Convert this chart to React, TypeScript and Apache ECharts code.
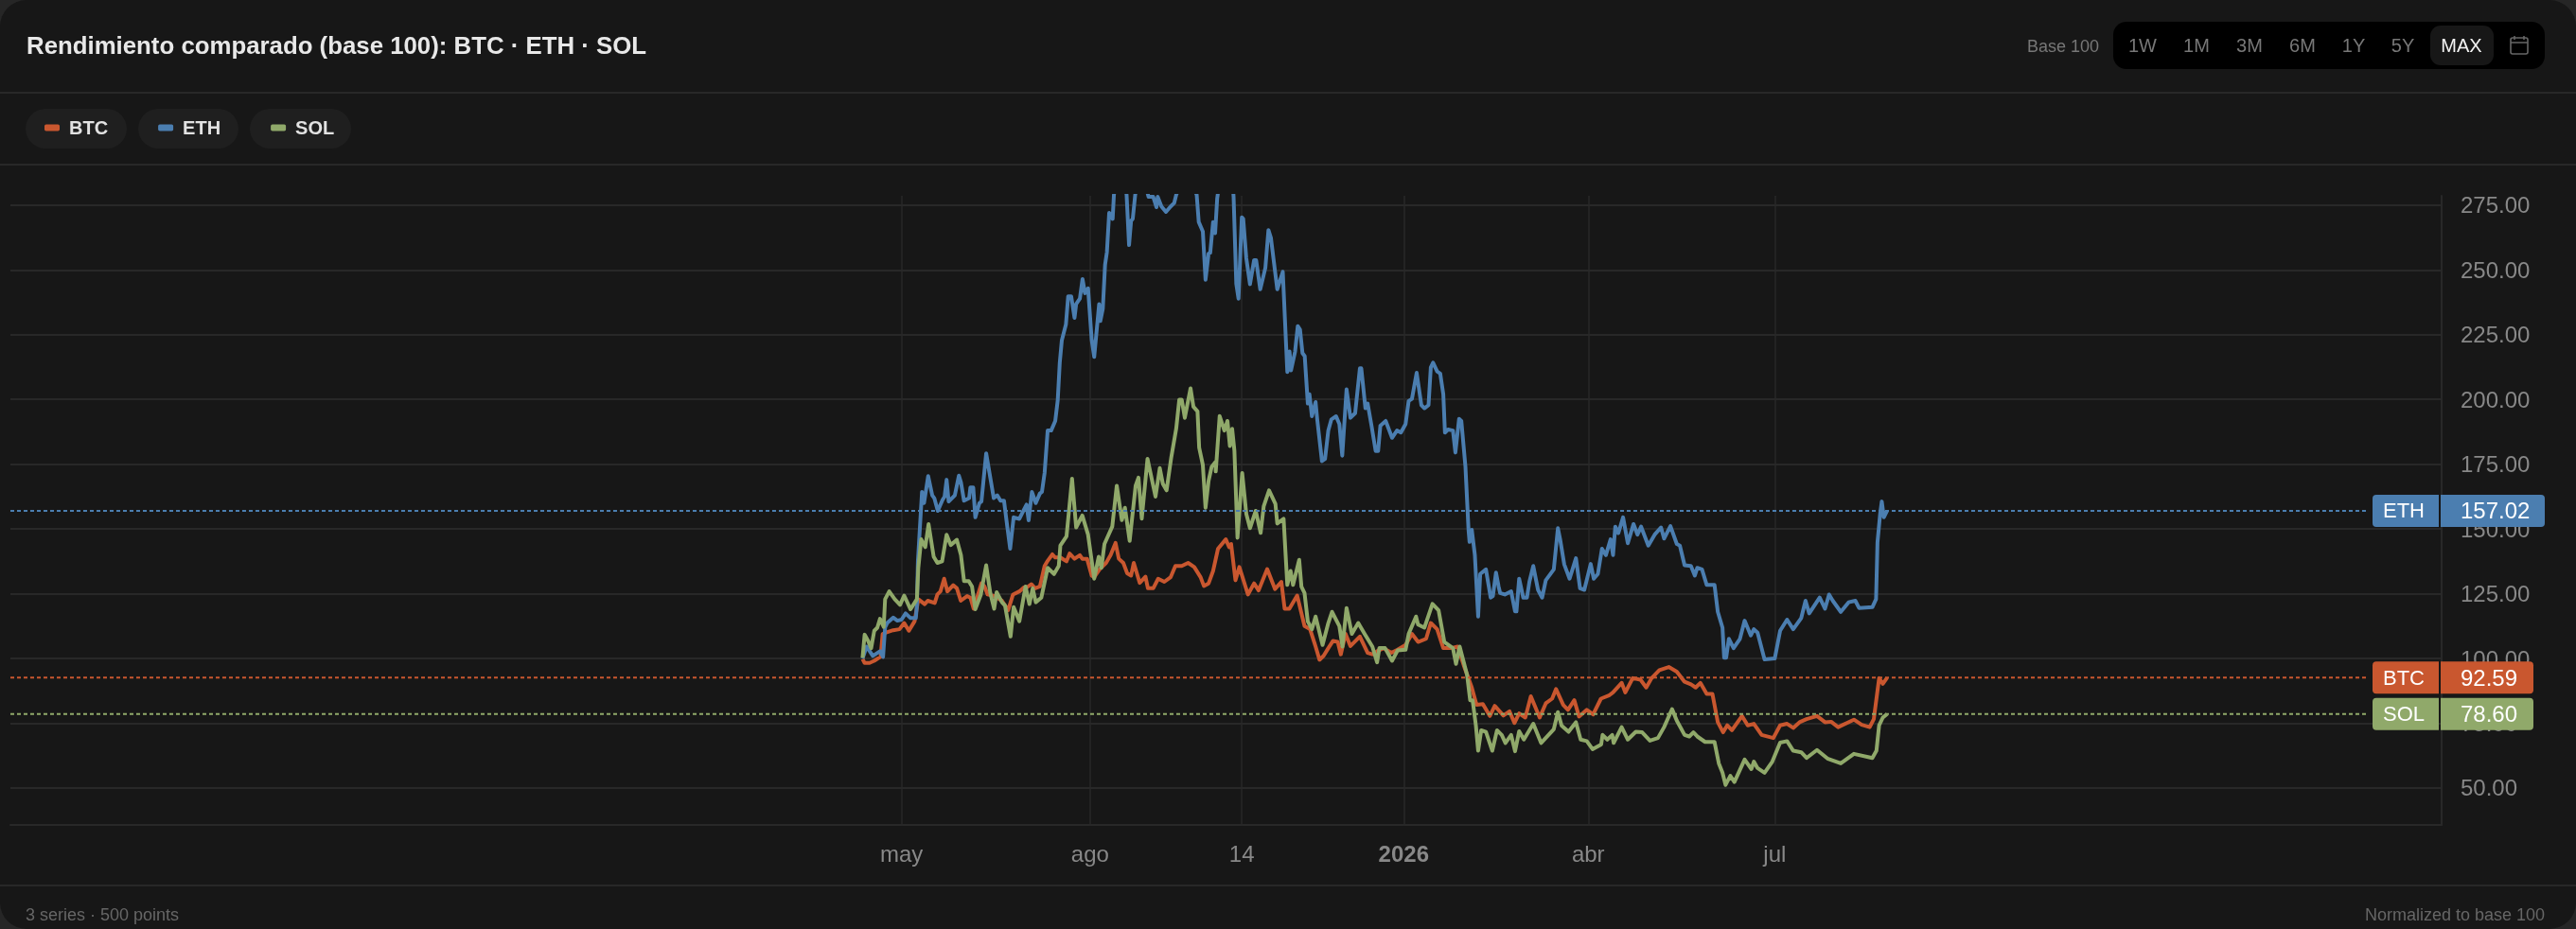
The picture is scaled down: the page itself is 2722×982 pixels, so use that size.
import React, { useEffect, useRef } from "react";
import * as echarts from "echarts";

const FONT = '"Liberation Sans", Arial, sans-serif';

const seriesNames = ["BTC", "ETH", "SOL"];
const seriesColors = ["#c9572f", "#4b7eb0", "#90a96a"];
const lastValues = [92.59, 157.02, 78.6];
const lastValueTexts = ["92.59", "157.02", "78.60"];
const yTicks = [50, 75, 100, 125, 150, 175, 200, 225, 250, 275];
// days since the first sample (12 Apr 2025): 1 May, 1 Aug, 14 Oct, 1 Jan, 1 Apr, 1 Jul
const xTickDays = [19, 111, 185, 264, 354, 445];
const xTickLabels = ["may", "ago", "14", "{b|2026}", "abr", "jul"];
const rangeTabs = ["1W", "1M", "3M", "6M", "1Y", "5Y"];

// [day since first sample, base-100 value]
const btcPoints = [
[0,99.8],[1,98.3],[3.4,98.3],[5.7,99.1],[8.8,100.7],[9.8,109.5],[11.8,110.1],[14.9,110.9],[18,111.3],[20.3,113.7],[22.6,110.7],[25.4,114.4],[27.2,122.9],[30.3,121],[31.8,122.3],[35.2,121.4],[36.5,124.7],[38,125.9],[39.8,130.8],[41.4,125.9],[44.2,128.3],[46,127.1],[47.9,122.3],[51,124.1],[52.6,123.5],[54.2,119.2],[58,129],[59.5,127.8],[61,124.7],[64.2,124.1],[68,122.3],[71,118.6],[73.4,124.7],[76.5,125.9],[78.8,127.5],[80.3,127.5],[82.3,128.7],[84.2,127.1],[86.5,127.8],[88.8,135.7],[90.3,137.7],[92.6,140.2],[94,139],[96.5,139],[99.5,137.5],[101,140.5],[103.4,138.5],[106,139.9],[107.2,138.5],[109.5,138.5],[111.8,132],[113,131.4],[115.7,134.5],[118.8,136.9],[121,139.9],[123.4,144.6],[125,138.5],[127.2,136.9],[129.1,132.9],[131,132],[132.3,136.9],[135.2,129.2],[138,131.6],[139.2,127.1],[141.8,127.1],[144.2,130.8],[147.2,129.6],[150.3,131.4],[152.6,135.7],[155.7,135.7],[158.8,136.9],[161.8,135.3],[164.9,131.4],[166.5,128],[168.8,129],[171,133.8],[173.4,142.4],[177.2,146],[178.8,143],[179.8,144.2],[181.9,130.2],[183.8,135.3],[188,124.7],[191,129],[193.2,126.3],[197.4,134.5],[201.2,126.8],[204.3,129.6],[205.9,119.2],[208.2,119.2],[212,124.3],[215.6,112.5],[218.3,111.3],[221,104.6],[222.9,99.5],[224.9,101],[227.2,104],[229.5,106.8],[231.8,106.4],[233.3,101.6],[235.6,109.5],[238,104.8],[242.6,108.5],[246.4,102.2],[248.7,101.6],[251,102.8],[254.1,104],[258,102.2],[261,103.4],[264.9,105.2],[268,109.5],[271,106.4],[274.9,107.6],[277.2,113.7],[280.3,111.3],[283.3,104],[287.2,104],[290.3,104.6],[293.3,97.3],[297.2,88.8],[299.5,82.1],[302.6,82.4],[306,77.8],[308.4,81.7],[312.6,78],[315.6,79.6],[318,75.1],[320.3,78.8],[323.3,77.2],[326,85.4],[330.3,77.2],[333.3,82.7],[336.4,84.5],[338.3,88.2],[341.8,82.1],[344.1,80.2],[347.2,83.9],[349.5,77.6],[353.3,80.2],[356.4,78.4],[360.2,84.5],[364.1,85.7],[366.1,86.9],[370.3,90.6],[372.1,86.9],[375.7,92.4],[379.5,91.8],[382.3,88.8],[384.9,92.4],[388.7,95.5],[393.3,96.7],[397.2,94.9],[401,91],[404.1,90],[406.4,88.8],[408.7,90.6],[411.8,86.3],[414.6,86.3],[417.2,75.4],[419.8,71.5],[421.8,74.2],[424.1,72.3],[429,77.8],[431.8,74.2],[434.8,74.8],[438.6,70.5],[444.3,69.3],[447.6,74.2],[451,74.8],[454,73.2],[457.1,75.4],[460.5,76.6],[465.6,77.8],[469.5,75.4],[472.5,75.6],[475.9,73.5],[483.6,76.4],[487.4,74.4],[491.3,73.5],[493.3,76.6],[495.9,92.4],[497.7,90.2],[499.8,92.59],
];
const ethPoints = [
[0,100],[2,104.6],[5,101],[8.5,102.8],[10,100.6],[11,112],[12,113.7],[15,115.8],[17,114.6],[19,115],[21,117.4],[23.4,115.6],[26,115.6],[26.5,120.4],[27,137.5],[29,164.3],[30,160],[32,170.4],[34,163],[35,161.9],[36.7,157],[39,161.2],[40,162.5],[41,169],[42,160.6],[45,163],[47,170.6],[48,168],[49.5,160.9],[52,161.9],[52.6,166],[54,166],[55,154.5],[57,160],[58,160.6],[60.3,179.2],[64,161.9],[65.7,163],[67.3,160.9],[69,160.9],[70.6,150.9],[72,142.4],[73.7,154.5],[76.5,153.9],[78.8,157.6],[80,159.4],[81,153.3],[82.6,164.3],[84.5,160],[86.5,163.7],[87.5,164.3],[88.8,171.6],[90.3,188],[92,188],[94,191.7],[95.2,199.6],[96.2,214.2],[97.2,222.8],[99.2,228.9],[100.3,239.8],[101.8,239.8],[103.4,231.5],[104.2,236.8],[106,238.9],[107.3,246.5],[108.5,241],[110,242.9],[111.8,222.8],[113,216.4],[115.4,236.8],[116,230.3],[117.2,235],[118.3,252],[119.2,256.9],[120.3,272],[122,269.7],[122.6,278.8],[124,288],[126.5,290],[128.8,279],[130,259.6],[131,269],[131.8,269.7],[133,279],[135.7,290],[139.5,278.2],[141.8,278.2],[143.4,274.2],[144,278.2],[145.8,274.5],[148,272.4],[150.3,274.5],[152,275.8],[153,279],[158,288],[163,279],[164,268.5],[166,264.8],[167.3,246.2],[168.8,256.3],[169.6,256.6],[171,268.5],[172,264.2],[173,277.6],[174.3,285],[180,290],[181,278.2],[182.3,244.7],[183.4,238.9],[185,270.3],[185.7,269.7],[187.2,254.5],[189,244.5],[191,253.8],[192,253.8],[194,242.5],[196.5,250.8],[198,265.4],[199.2,262.4],[202.3,242.5],[205,249.3],[207.2,210.6],[208.3,218.5],[209,211.2],[211,218.5],[212.3,228.3],[213.4,227],[214.6,217.9],[215.7,216.7],[217.2,198.4],[218,202],[219.2,193.5],[221,199],[221.8,192.3],[224.1,176.2],[225.6,177],[227.2,188],[228.7,192.3],[231,193.5],[232.6,190.5],[234,178.3],[236.1,203.9],[238,192.9],[240.3,194.7],[242.6,212],[243.3,212],[245.3,196.6],[246.4,198.4],[248.4,189.3],[250.3,180.1],[251.5,180.1],[252.6,189.9],[255.2,191.7],[258.3,185.2],[260.7,188],[262.6,187.2],[264.9,190.5],[266.4,199.4],[268,200.2],[270.3,210.3],[272.6,197.8],[274.1,196.6],[276.1,197.8],[277.2,212.4],[278.3,214.2],[280.3,210.8],[281.8,210],[283.3,202],[284.1,187.2],[285.6,188.4],[288,188],[289.2,179.5],[291,192.5],[292.1,191.7],[294.1,174],[295.6,149.7],[296.1,145],[297.2,149.7],[298.7,139.9],[300.3,116.2],[301.3,132.6],[304.1,134.4],[306.4,123.5],[307.5,124.1],[309,133.2],[310.3,127.7],[311,125.3],[313.3,124.7],[316.4,125.9],[318.3,118.2],[319,118.2],[320.3,130.8],[322.3,123.5],[324.1,123.5],[325.3,129.6],[327.2,135.7],[329.5,126.5],[331.5,123.5],[333.3,130.2],[337.2,134.4],[339.2,150.3],[340.3,146],[342.3,136.3],[344.9,130.8],[348,138.7],[350,127.1],[352.1,126.5],[355.2,136.5],[356.7,130.8],[358.7,132.6],[360.7,142.4],[362.6,139.9],[364.9,146],[366.1,139.9],[367.2,150.9],[368.7,148.4],[371,154.5],[373.3,144.5],[376.1,151.9],[378,147.8],[379.8,150.9],[383.3,143.6],[386.4,147.8],[389.5,150.6],[391,146.3],[394.1,151.1],[397.2,144.2],[398.7,143.6],[401,136],[404.1,135.7],[406,132],[407.2,135],[409.5,134.4],[411.8,128.4],[415.6,128.4],[417.2,118],[419.5,111.9],[420.3,100.3],[421.3,100.3],[422.6,107.6],[424.9,104],[428,107.6],[430.3,114.6],[433.3,108.9],[434.8,111.3],[436.6,110],[440,99.7],[445,100],[447.6,110.7],[451,115],[454,111.3],[457.9,115.6],[460,122.3],[461.8,117.4],[466.9,123.5],[469.5,119.2],[471.5,124.7],[473.3,122.3],[477.2,118],[481,121.7],[484.3,122.3],[486.1,119.5],[492.6,119.8],[494.4,122.9],[495.1,144.8],[496.4,155.8],[497.2,160.6],[498.2,154.5],[499.8,157.02],
];
const solPoints = [
[0,100.3],[1,109.2],[2.6,107],[4.2,104],[5.7,110.7],[7.2,111.9],[8.5,115.3],[10.3,112.2],[11,122.9],[13,125.9],[15.7,122.9],[18.3,120.7],[20.3,124.3],[23.4,119],[25.7,121.9],[26.5,122.9],[27.2,135],[28.6,146],[30.6,143],[32.2,151.9],[34.7,139.3],[36.5,136.9],[38.8,137.5],[41,147.8],[43,143.8],[46,145.8],[48,139.9],[49.5,129.9],[51.8,129.9],[53.4,127.8],[55,119],[57.7,124.7],[60.3,136],[62.3,125.3],[64.2,119.2],[65.4,125.6],[68,121.7],[69.5,120.4],[72.2,108.5],[73.7,119.8],[76.5,114.4],[79.5,127.8],[81.4,121],[83,127.1],[84.5,121.7],[87.2,123.5],[90.3,135],[93.4,132.6],[95.7,135.7],[96.5,143.6],[99.5,147.2],[102.2,169.4],[104.2,150.6],[107.2,155.2],[110,147.8],[113,130.8],[115.2,139.3],[116.5,135],[118,144.2],[121.8,150.9],[124,166.7],[126.5,153.4],[128,158.2],[130.3,145.4],[133.2,166.7],[134.6,169.8],[136.2,154],[139,177.1],[142.9,162.5],[145,173.5],[146.5,167.4],[148.3,164.9],[150.6,177.7],[153,188.7],[154.5,199.9],[155.7,199.9],[157.2,192.9],[160,204.3],[161.4,197.2],[163.4,195.4],[164.2,181.4],[166,174.7],[167.3,158.2],[168.8,168.6],[170.3,174],[172.2,175.9],[172.3,172.2],[174.2,193.6],[176.5,188],[178,191.7],[179.2,182],[180.3,188.7],[181.4,180.2],[182.9,146.6],[185.2,171.6],[187.2,155.8],[189,150.3],[191.8,157],[194.2,148.5],[195.7,158.8],[198.3,164.9],[201.4,159.7],[202.3,152.1],[205.4,153.9],[207.2,128.4],[208.8,133.8],[210,128.4],[213,138.1],[214.1,127.7],[215.6,125.3],[217.2,114.3],[219.2,111.3],[221,116.2],[224.4,105.2],[227.2,113.7],[229,118],[232.6,112.5],[234.1,104.6],[236.1,119.5],[238.7,109.5],[241.8,113.7],[244.9,109.5],[248.7,104.6],[251,98.5],[252.1,104],[254.9,104],[258.3,99.1],[261,103.1],[264.9,103.4],[266.4,109.5],[270,116.2],[271,113.1],[274.1,111.9],[278,121.1],[281,118.6],[283.8,106.4],[288,104],[289.5,97.9],[291.3,104.6],[294.9,93.6],[296.4,83.9],[297.6,83.9],[299.2,74.1],[300.3,64.4],[301.8,72.3],[304.1,71.7],[307.2,64.4],[309.5,72.3],[311.8,70.5],[313.6,67.4],[316.4,70.5],[318.3,64.2],[320.3,71.9],[322.6,68.7],[327.2,74.8],[331,67.4],[337.2,72.7],[339.2,79.3],[341,74.1],[344.4,71.7],[348,75.4],[350.3,68.7],[353.3,68.1],[356.1,65],[360.3,66.8],[361,70.5],[363.3,68.7],[365.7,70.5],[366.4,67.4],[370.3,73.5],[373.3,68.7],[377.2,71.7],[380.3,71.5],[384.1,68.3],[388,69.3],[391,73.5],[394.9,80.5],[397.2,76],[401,70.5],[403.3,69.9],[405.3,71.5],[407.2,69.9],[411,67.8],[415.6,67.8],[417.7,59.5],[419.5,55.9],[421,51.2],[423.3,54.7],[425.3,52.3],[430.3,61],[433.6,57.3],[434.8,60.2],[436.6,57.7],[440,55.9],[443.8,60.2],[447.6,67.5],[451,68.1],[454,64.4],[457.9,63.8],[460.5,61.6],[465.6,64.7],[470.7,61.4],[477.2,59.5],[483.6,63.2],[492.6,61.6],[494.6,64.4],[495.9,74.2],[497.7,77.2],[499.8,78.6],
];

const lastDay = 499.8;

const txt = (text: string, x: number, y: number, fill: string, fontSize: number, extra: any = {}) => ({
  type: "text",
  silent: true,
  style: { text, x, y, fill, fontSize, fontFamily: FONT, textVerticalAlign: "middle", ...extra },
});

function buildGraphics() {
  const g: any[] = [];
  g.push(
    { type: "line", shape: { x1: 0, y1: 98, x2: 2722, y2: 98 }, style: { stroke: "#282828", lineWidth: 2 } },
    { type: "line", shape: { x1: 0, y1: 174, x2: 2722, y2: 174 }, style: { stroke: "#282828", lineWidth: 2 } },
    { type: "line", shape: { x1: 0, y1: 936, x2: 2722, y2: 936 }, style: { stroke: "#282828", lineWidth: 2 } }
  );
  g.push(txt("Rendimiento comparado (base 100): BTC · ETH · SOL", 28, 48, "#e8e8e8", 25.8, { fontWeight: "bold" }));
  [[27, 107], [146, 106], [264, 107]].forEach(([x, w]) =>
    g.push({ type: "rect", z: -1, shape: { x, y: 115, width: w, height: 42, r: 21 }, style: { fill: "#1f1f1f" } })
  );
  g.push(txt("Base 100", 2142, 49, "#777777", 18));
  g.push({ type: "rect", shape: { x: 2233, y: 23, width: 456, height: 50, r: 14 }, style: { fill: "#000000" } });
  g.push({ type: "rect", shape: { x: 2568, y: 27, width: 67, height: 42, r: 11 }, style: { fill: "#171717" } });
  [2264, 2321, 2377, 2433, 2487, 2539].forEach((x, i) =>
    g.push(txt(rangeTabs[i], x, 48, "#777777", 20, { textAlign: "center" }))
  );
  g.push(txt("MAX", 2601, 48, "#f2f2f2", 20, { textAlign: "center" }));
  g.push(
    { type: "rect", shape: { x: 2653, y: 40, width: 18, height: 17, r: 2 }, style: { fill: "none", stroke: "#666666", lineWidth: 1.6 } },
    { type: "line", shape: { x1: 2653, y1: 45, x2: 2671, y2: 45 }, style: { stroke: "#666666", lineWidth: 1.6 } },
    { type: "line", shape: { x1: 2657, y1: 38, x2: 2657, y2: 42 }, style: { stroke: "#666666", lineWidth: 1.6 } },
    { type: "line", shape: { x1: 2667, y1: 38, x2: 2667, y2: 42 }, style: { stroke: "#666666", lineWidth: 1.6 } }
  );
  g.push(txt("3 series · 500 points", 27, 967, "#666666", 18));
  g.push(txt("Normalized to base 100", 2689, 967, "#666666", 18, { textAlign: "right" }));
  return g;
}

const LABEL_RIGHT = [2677, 2689, 2677];

function renderPriceLabel(params: any, api: any) {
  const i = params.dataIndex;
  const y = api.coord([api.value(0), api.value(1)])[1];
  const c = seriesColors[i];
  const left = params.coordSys.x;
  const right = LABEL_RIGHT[i];
  return {
    type: "group",
    children: [
      { type: "line", shape: { x1: left, y1: y, x2: 2503, y2: y }, style: { stroke: c, lineWidth: 2, lineDash: [4, 3] } },
      { type: "rect", shape: { x: 2507, y: y - 17, width: 70, height: 34, r: [4, 0, 0, 4] }, style: { fill: c } },
      { type: "rect", shape: { x: 2579, y: y - 17, width: right - 2579, height: 34, r: [0, 4, 4, 0] }, style: { fill: c } },
      { type: "text", style: { text: seriesNames[i], x: 2518, y, fill: "#ffffff", fontSize: 22, fontFamily: FONT, textVerticalAlign: "middle" } },
      { type: "text", style: { text: lastValueTexts[i], x: 2600, y, fill: "#ffffff", fontSize: 24, fontFamily: FONT, textVerticalAlign: "middle" } },
    ],
  };
}

export default function App() {
  const ref = useRef<HTMLDivElement>(null);
  useEffect(() => {
    document.body.style.margin = "0";
    document.body.style.background = "#262626";
    const chart = echarts.init(ref.current!, undefined, { renderer: "svg" });
    const lines = [btcPoints, ethPoints, solPoints].map((pts, i) => ({
      name: seriesNames[i],
      type: "line",
      data: pts,
      showSymbol: false,
      smooth: false,
      clip: true,
      z: 3,
      itemStyle: { color: seriesColors[i] },
      lineStyle: { color: seriesColors[i], width: 4, join: "round" },
    }));
    chart.setOption({
      animation: false,
      backgroundColor: "transparent",
      textStyle: { fontFamily: FONT },
      legend: {
        show: true,
        left: 47,
        top: 125,
        padding: 0,
        itemWidth: 16,
        itemHeight: 7,
        itemGap: 53,
        icon: "roundRect",
        selectedMode: false,
        data: seriesNames,
        textStyle: { color: "#e2e2e2", fontSize: 20, fontWeight: "bold", fontFamily: FONT, padding: [0, 0, 0, 5] },
      },
      grid: { left: 11, right: 142, top: 207, bottom: 110, containLabel: false },
      xAxis: {
        type: "value",
        min: -415.7,
        max: 770.3,
        axisLine: { show: true, onZero: false, lineStyle: { color: "#282828", width: 2 } },
        axisTick: { show: false, customValues: xTickDays },
        splitLine: { show: true, lineStyle: { color: "#282828", width: 1.5 } },
        axisLabel: {
          customValues: xTickDays,
          color: "#888888",
          fontSize: 24,
          fontFamily: FONT,
          margin: 18,
          hideOverlap: false,
          formatter: (v: number) => {
            const i = xTickDays.indexOf(v);
            return i >= 0 ? xTickLabels[i] : "";
          },
          rich: { b: { fontWeight: "bold", fontSize: 24, color: "#888888", fontFamily: FONT } },
        },
      },
      yAxis: {
        type: "value",
        position: "right",
        min: 35.75,
        max: 278.6,
        axisLine: { show: true, onZero: false, lineStyle: { color: "#282828", width: 2 } },
        axisTick: { show: false, customValues: yTicks },
        splitLine: { show: true, lineStyle: { color: "#282828", width: 2 } },
        axisLabel: {
          customValues: yTicks,
          color: "#888888",
          fontSize: 24,
          fontFamily: FONT,
          margin: 20,
          formatter: (v: number) => v.toFixed(2),
        },
      },
      graphic: { elements: buildGraphics() },
      series: [
        ...lines,
        {
          type: "custom",
          name: "last",
          coordinateSystem: "cartesian2d",
          z: 6,
          silent: true,
          clip: false,
          encode: { x: 0, y: 1 },
          renderItem: renderPriceLabel,
          data: lastValues.map((v) => [lastDay, v]),
        },
      ],
    });
    return () => chart.dispose();
  }, []);
  return (
    <div
      style={{
        position: "fixed",
        left: 0,
        top: 0,
        width: 2722,
        height: 982,
        overflow: "hidden",
        background: "#171717",
        borderRadius: 28,
      }}
    >
      <div ref={ref} style={{ width: 2722, height: 982 }} />
    </div>
  );
}
